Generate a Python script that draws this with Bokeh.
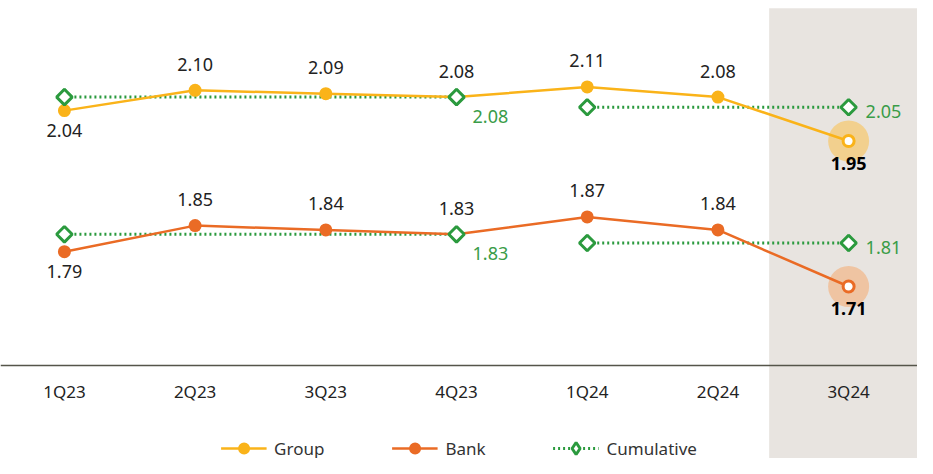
from bokeh.plotting import figure
from bokeh.models import Range1d, BoxAnnotation, Span, Legend, LegendItem
from bokeh.core.properties import value
from bokeh.embed import file_html
from bokeh.resources import INLINE

# ---- data ----
quarters = ["1Q23", "2Q23", "3Q23", "4Q23", "1Q24", "2Q24", "3Q24"]
group = [2.04, 2.10, 2.09, 2.08, 2.11, 2.08, 1.95]
bank = [1.79, 1.85, 1.84, 1.83, 1.87, 1.84, 1.71]
cum_start = ["1Q23", "1Q24"]
cum_end = ["4Q23", "3Q24"]
group_cum = [2.08, 2.05]
bank_cum = [1.83, 1.81]
highlight = "3Q24"

# ---- style ----
FONT = "Noto Sans"
C_GROUP = "#FAB319"
C_BANK = "#EA6B25"
C_CUM = "#2B9A3E"
C_CUM_TXT = "#3A9C48"
C_TXT = "#222222"

W, H = 917, 458
p = figure(width=W, height=H, output_backend="svg", toolbar_location=None,
           x_axis_location=None, y_axis_location=None, min_border=0,
           x_range=Range1d(-0.489, 6.527), y_range=Range1d(1.0114, 2.3656))
p.extra_y_ranges = {"bank": Range1d(1.3144, 2.3677), "px": Range1d(H, 0)}
p.outline_line_color = None
p.grid.visible = False
p.background_fill_color = "white"

idx = {q: i for i, q in enumerate(quarters)}
xs = [idx[q] for q in quarters]
hi = idx[highlight]

# highlight band
p.add_layout(BoxAnnotation(left=hi - 0.608, top=7.7, bottom=H, y_range_name="px",
                           fill_color="#E8E4E0", fill_alpha=1.0, line_color=None, level="underlay"))
# baseline
p.add_layout(Span(location=365, dimension="width", y_range_name="px", line_color="#55554A", line_width=1.6))

# category labels
p.text(x=xs, y=[391] * len(xs), text=quarters, y_range_name="px", text_align="center",
       text_baseline="middle", text_font=value(FONT), text_font_size="17px", text_color=C_TXT)


def draw_series(vals, cum_vals, color, halo, rng):
    kw = {} if rng is None else {"y_range_name": rng}
    x0 = [idx[q] for q in cum_start]
    x1 = [idx[q] for q in cum_end]
    seg = p.segment(x0=x0, y0=cum_vals, x1=x1, y1=cum_vals, line_color=C_CUM, line_width=3,
                    line_dash="2 3", **kw)
    p.scatter(x=[hi], y=[vals[hi]], size=41, fill_color=halo, line_color=None, **kw)
    line = p.line(x=xs, y=vals, line_color=color, line_width=2.5, **kw)
    others = [i for i in xs if i != hi]
    pts = p.scatter(x=others, y=[vals[i] for i in others], size=13, fill_color=color, line_color=None, **kw)
    p.scatter(x=[hi], y=[vals[hi]], size=11, fill_color="white", line_color=color, line_width=3, **kw)
    # diamond used for the legend icon (covered by the rotated squares below)
    dia = p.scatter(x=x0 + x1, y=cum_vals + cum_vals, marker="diamond", size=15,
                    fill_color="white", line_color=C_CUM, line_width=3, **kw)
    p.scatter(x=x0 + x1, y=cum_vals + cum_vals, marker="square", angle=0.785398, size=11,
              fill_color="white", line_color=C_CUM, line_width=3, **kw)
    lab_x = [i for i in xs if i != hi]
    lab_y = [vals[i] for i in lab_x]
    off = [20 if i == 0 else -26 for i in lab_x]
    p.text(x=lab_x, y=lab_y, text=[f"{vals[i]:.2f}" for i in lab_x], y_offset=off,
           text_align="center", text_baseline="middle", text_font=value(FONT),
           text_font_size="18px", text_color=C_TXT, **kw)
    p.text(x=[hi], y=[vals[hi]], text=[f"{vals[hi]:.2f}"], y_offset=[22],
           text_align="center", text_baseline="middle", text_font=value(FONT),
           text_font_size="18px", text_font_style="bold", text_color="#000000", **kw)
    p.text(x=x1, y=cum_vals, text=[f"{v:.2f}" for v in cum_vals], x_offset=[16, 17], y_offset=[19, 4],
           text_align="left", text_baseline="middle", text_font=value(FONT),
           text_font_size="18px", text_color=C_CUM_TXT, **kw)
    return line, pts, seg, dia


g_line, g_pts, g_seg, g_dia = draw_series(group, group_cum, C_GROUP, "#F2D08E", None)
b_line, b_pts, b_seg, b_dia = draw_series(bank, bank_cum, C_BANK, "#EFC4A2", "bank")

legend = Legend(items=[
    LegendItem(label="Group", renderers=[g_line, g_pts]),
    LegendItem(label="Bank", renderers=[b_line, b_pts]),
    LegendItem(label="Cumulative", renderers=[g_seg, g_dia]),
], location="bottom_center", orientation="horizontal", glyph_width=46, glyph_height=30,
    spacing=67, label_standoff=8, padding=0, margin=-5, border_line_color=None,
    background_fill_alpha=0, label_text_font=FONT, label_text_font_size="17px",
    label_text_color="#333333")
p.add_layout(legend)

open("out.html", "w").write(file_html(p, INLINE))
